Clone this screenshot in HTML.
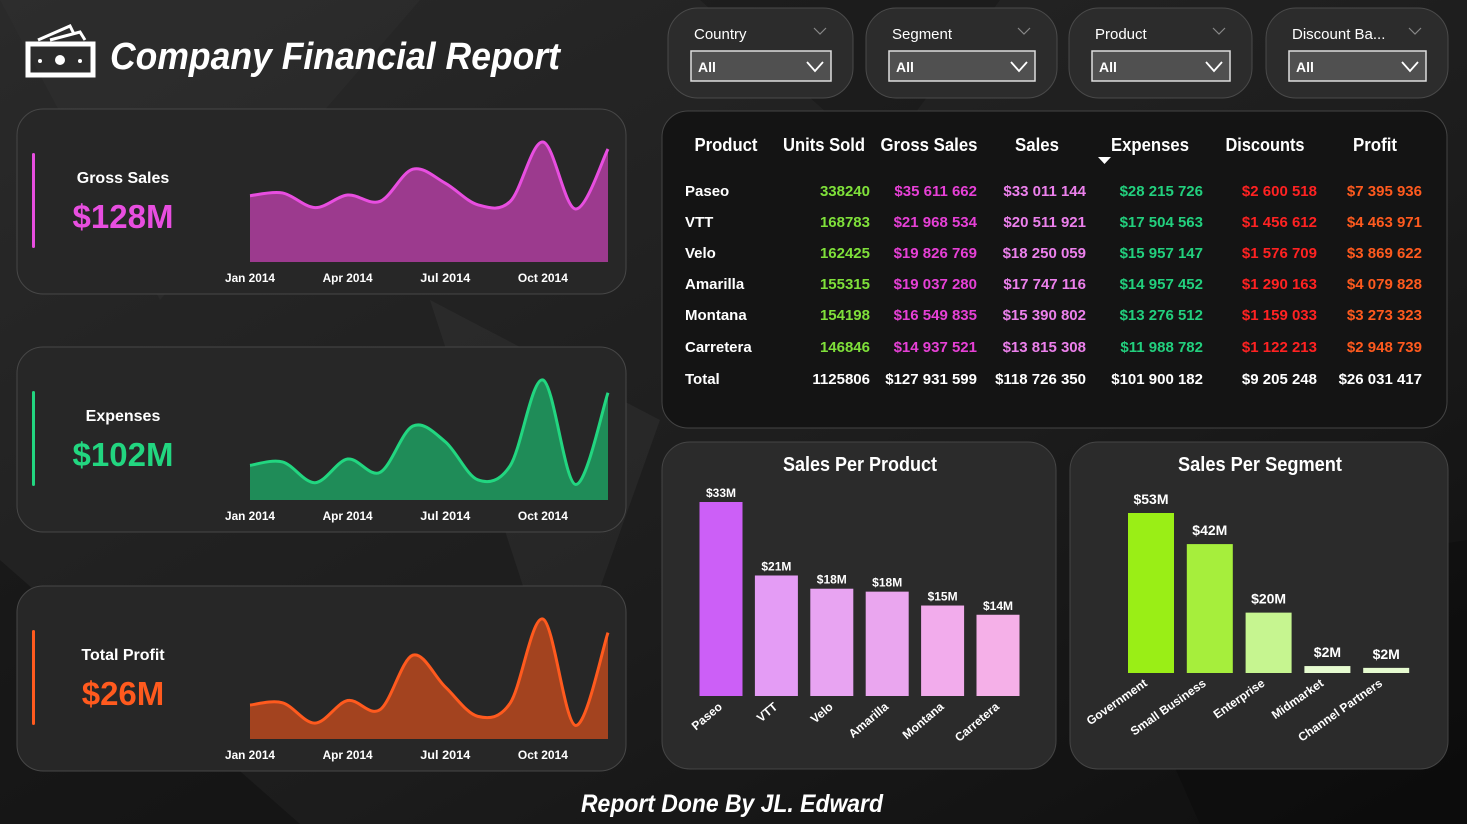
<!DOCTYPE html>
<html><head><meta charset="utf-8"><style>
html,body{margin:0;padding:0;background:#151515;}
svg{display:block;font-family:"Liberation Sans Narrow","Liberation Sans",sans-serif;font-weight:bold;}
</style></head><body>
<svg id="dash" width="1467" height="824" viewBox="0 0 1467 824" xmlns="http://www.w3.org/2000/svg">
<defs>
<linearGradient id="bg" x1="0" y1="0" x2="1" y2="1"><stop offset="0" stop-color="#2a2a2a"/><stop offset="0.6" stop-color="#1c1c1c"/><stop offset="1" stop-color="#0e0e0e"/></linearGradient>
</defs>
<rect width="1467" height="824" fill="url(#bg)"/>
<g opacity="0.35">
<polygon points="0,0 420,0 160,300" fill="#333"/>
<polygon points="700,0 1000,0 880,160" fill="#111"/>
<polygon points="0,560 300,824 0,824" fill="#0a0a0a"/>
<polygon points="1100,600 1467,540 1467,824 1200,824" fill="#0a0a0a"/>
<polygon points="430,300 660,420 560,700" fill="#3a3a3a"/>
</g>

<g>
<rect x="28" y="44" width="65" height="31" fill="none" stroke="#fff" stroke-width="5"/>
<circle cx="60" cy="60" r="5" fill="#fff"/><circle cx="40" cy="61" r="2" fill="#fff"/><circle cx="80" cy="61" r="2" fill="#fff"/>
<path d="M38,40 L70,26 L74,34 M50,40 L80,32 L85,40" stroke="#fff" stroke-width="3" fill="none"/>
</g>
<text x="110" y="69" font-size="38" font-style="italic" fill="#fff" textLength="450" lengthAdjust="spacingAndGlyphs">Company Financial Report</text>

<g id="slicers"></g>
<g id="cards"></g>

<rect x="662" y="111" width="785" height="317" rx="26" fill="#141414" stroke="#444"/>
<g id="table"></g>

<rect x="662" y="442" width="394" height="327" rx="28" fill="#2b2b2b" stroke="#454545"/>
<text x="860" y="471" text-anchor="middle" font-size="20" fill="#fff" textLength="154" lengthAdjust="spacingAndGlyphs">Sales Per Product</text>
<g id="prodbars"></g>
<rect x="1070" y="442" width="378" height="327" rx="28" fill="#2b2b2b" stroke="#454545"/>
<text x="1260" y="471" text-anchor="middle" font-size="20" fill="#fff" textLength="164" lengthAdjust="spacingAndGlyphs">Sales Per Segment</text>
<g id="segbars"></g>

<text x="732" y="812" text-anchor="middle" font-size="25" font-style="italic" fill="#fff" textLength="302" lengthAdjust="spacingAndGlyphs">Report Done By JL. Edward</text>
</svg>
<script>
const months = ["Jan 2014","Feb","Mar","Apr 2014","May","Jun","Jul 2014","Aug","Sep","Oct 2014","Nov","Dec"];
const grossSalesMonthly = [9.5,9.9,7.8,9.6,8.7,13.3,11.3,8.2,8.7,17.2,7.6,16.2];
const expensesMonthly = [6.0,6.6,3.0,7.1,4.8,12.8,10.1,3.5,6.0,20.8,2.7,18.6];
const profitMonthly = [1.5,1.6,0.7,1.7,1.3,3.7,2.3,1.0,1.6,5.3,0.6,4.7];
const products = ["Paseo","VTT","Velo","Amarilla","Montana","Carretera"];
const productSales = [33.0,20.5,18.25,17.75,15.39,13.82];
const productSalesLabels = ["$33M","$21M","$18M","$18M","$15M","$14M"];
const segments = ["Government","Small Business","Enterprise","Midmarket","Channel Partners"];
const segmentSales = [53,42.7,20,2.3,1.7];
const segmentSalesLabels = ["$53M","$42M","$20M","$2M","$2M"];
const tableHeaders = ["Product","Units Sold","Gross Sales","Sales","Expenses","Discounts","Profit"];
const tableRows = [
 ["Paseo","338240","$35 611 662","$33 011 144","$28 215 726","$2 600 518","$7 395 936"],
 ["VTT","168783","$21 968 534","$20 511 921","$17 504 563","$1 456 612","$4 463 971"],
 ["Velo","162425","$19 826 769","$18 250 059","$15 957 147","$1 576 709","$3 869 622"],
 ["Amarilla","155315","$19 037 280","$17 747 116","$14 957 452","$1 290 163","$4 079 828"],
 ["Montana","154198","$16 549 835","$15 390 802","$13 276 512","$1 159 033","$3 273 323"],
 ["Carretera","146846","$14 937 521","$13 815 308","$11 988 782","$1 122 213","$2 948 739"],
 ["Total","1125806","$127 931 599","$118 726 350","$101 900 182","$9 205 248","$26 031 417"]];
const slicerNames = ["Country","Segment","Product","Discount Ba..."];

const NS="http://www.w3.org/2000/svg";
function mk(parent,tag,attrs,text){const e=document.createElementNS(NS,tag);for(const k in attrs)e.setAttribute(k,attrs[k]);if(text!=null)e.textContent=text;parent.appendChild(e);return e;}

const slX=[668,866,1069,1266], slW=[185,191,183,182];
const sl=document.getElementById('slicers');
slicerNames.forEach((n,i)=>{
 const x=slX[i],w=slW[i];
 const g=mk(sl,'g',{});
 
 
 mk(g,'rect',{x:x,y:8,width:w,height:90,rx:30,fill:'#2c2c2c',stroke:'#4a4a4a'});
 mk(g,'text',{x:x+26,y:39,'font-size':15,fill:'#fff','font-weight':'normal'},n);
 mk(g,'path',{d:`M${x+w-39},28 l6,6 l6,-6`,stroke:'#888',fill:'none','stroke-width':1.2});
 const b=mk(g,'rect',{x:x+23,y:51,width:w-45,height:30,fill:'#505050',stroke:'#ddd','stroke-width':1.5});
 
 
 mk(g,'text',{x:x+30,y:72,'font-size':14,fill:'#fff'},'All');
 mk(g,'path',{d:`M${x+w-46},62 l8,9 l8,-9`,stroke:'#fff',fill:'none','stroke-width':1.8});
});

const cardDefs=[
 {y:109,label:'Gross Sales',value:'$128M',data:grossSalesMonthly,line:'#e84ee0',fill:'#9c3a8e',name:'gross-sales'},
 {y:347,label:'Expenses',value:'$102M',data:expensesMonthly,line:'#22d680',fill:'#1f8c58',name:'expenses'},
 {y:586,label:'Total Profit',value:'$26M',data:profitMonthly,line:'#ff5a1e',fill:'#a3431f',name:'total-profit'}];
const cardsG=document.getElementById('cards');
function smooth(pts){let d=`M${pts[0][0]},${pts[0][1]}`;for(let i=0;i<pts.length-1;i++){const p0=pts[i-1]||pts[i],p1=pts[i],p2=pts[i+1],p3=pts[i+2]||p2;const c1=[p1[0]+(p2[0]-p0[0])/6,p1[1]+(p2[1]-p0[1])/6],c2=[p2[0]-(p3[0]-p1[0])/6,p2[1]-(p3[1]-p1[1])/6];d+=` C${c1[0]},${c1[1]} ${c2[0]},${c2[1]} ${p2[0]},${p2[1]}`;}return d;}
cardDefs.forEach(c=>{
 const g=mk(cardsG,'g',{});
 
 
 mk(g,'rect',{x:17,y:c.y,width:609,height:185,rx:26,fill:'#272727',stroke:'#474747'});
 mk(g,'rect',{x:32,y:c.y+44,width:3,height:95,rx:1.5,fill:c.line});
 const lt=mk(g,'text',{x:123,y:c.y+74,'text-anchor':'middle','font-size':16,fill:'#fff'},c.label);
 
 
 const vt=mk(g,'text',{x:123,y:c.y+119,'text-anchor':'middle','font-size':33,fill:c.line},c.value);
 
 
 const x0=250,x1=608,base=c.y+153,H=120;
 const mx=Math.max(...c.data);
 const xs=i=>x0+i*(x1-x0)/(c.data.length-1);
 const ys=v=>base-v/mx*H;
 const pts=c.data.map((v,i)=>[xs(i),ys(v)]);
 const d=smooth(pts);
 const area=mk(g,'path',{d:d+` L${x1},${base} L${x0},${base} Z`,fill:c.fill});
 
 
 const ln=mk(g,'path',{d:d,fill:'none',stroke:c.line,'stroke-width':3});
 
 
 months.forEach((m,i)=>{if(i%3===0){const t=mk(g,'text',{x:xs(i),y:c.y+173,'text-anchor':'middle','font-size':12,fill:'#fff',textLength:50,lengthAdjust:'spacingAndGlyphs'},m);
  
  }});
});

const tb=document.getElementById('table');
const hdrX=[726,824,929,1037,1150,1265,1375];
const hdrW=[63,82,97,44,78,79,44];
const colX=[685,870,977,1086,1203,1317,1422];
const colColors=['#fff','#7fe03a','#e640d6','#ec80ec','#22d07e','#ff2222','#ff5a1e'];
tableHeaders.forEach((h,i)=>{const t=mk(tb,'text',{x:hdrX[i],y:151,'text-anchor':'middle','font-size':18,fill:'#fff',textLength:hdrW[i],lengthAdjust:'spacingAndGlyphs'},h);
 
 });
mk(tb,'path',{d:'M1098,157 l13,0 l-6.5,7 Z',fill:'#fff'});
const rowY=[196,227,258,289,320,352,384];
tableRows.forEach((r,ri)=>{r.forEach((v,ci)=>{const t=mk(tb,'text',{x:colX[ci],y:rowY[ri],'text-anchor':ci===0?'start':'end','font-size':15,fill:ri===6?'#fff':colColors[ci]},v);
 
 });});

const pb=document.getElementById('prodbars');
const pBase=696, pScale=194/33, pX0=721, pStep=55.4, pW=43;
const prodColors=['#cc5ff7','#e49cf5','#e8a4f2','#eaa6ef','#f2acec','#f5b0e8'];
products.forEach((p,i)=>{const cx=pX0+i*pStep,h=productSales[i]*pScale;
 const r=mk(pb,'rect',{x:cx-pW/2,y:pBase-h,width:pW,height:h,fill:prodColors[i]});
 
 
 mk(pb,'text',{x:cx,y:pBase-h-5,'text-anchor':'middle','font-size':12,fill:'#fff'},productSalesLabels[i]);
 mk(pb,'text',{x:cx+2,y:pBase+12,'text-anchor':'end','font-size':12,fill:'#fff',transform:`rotate(-40 ${cx+2} ${pBase+12})`},p);
});
const sb=document.getElementById('segbars');
const sBase=673, sScale=160/53, sX0=1151, sStep=58.8, sW=46;
const segColors=['#9aee16','#a6ee3c','#c6f590','#e6fbd0','#e6fbd0'];
segments.forEach((s,i)=>{const cx=sX0+i*sStep,h=segmentSales[i]*sScale;
 const r=mk(sb,'rect',{x:cx-sW/2,y:sBase-h,width:sW,height:h,fill:segColors[i]});
 
 
 mk(sb,'text',{x:cx,y:sBase-h-9,'text-anchor':'middle','font-size':14,fill:'#fff'},segmentSalesLabels[i]);
 mk(sb,'text',{x:cx-3,y:sBase+12,'text-anchor':'end','font-size':12,fill:'#fff',transform:`rotate(-35 ${cx-3} ${sBase+12})`},s);
});
</script>
</body></html>
